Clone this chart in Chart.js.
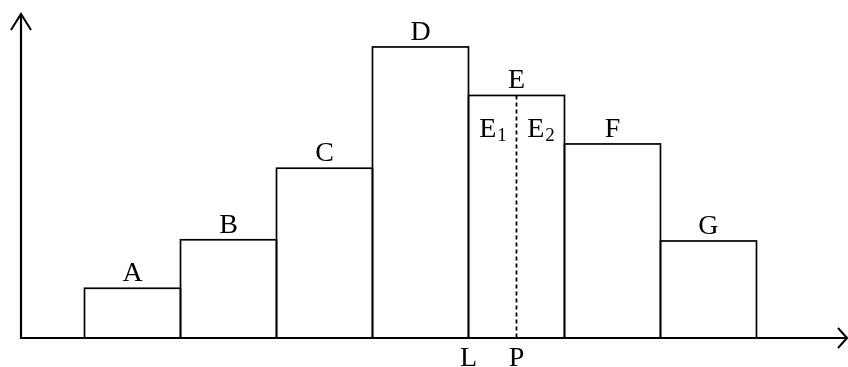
<!DOCTYPE html>
<html>
<head>
<meta charset="utf-8">
<script src="https://cdn.jsdelivr.net/npm/chart.js@4/dist/chart.umd.min.js"></script>
<style>
  html, body { margin: 0; padding: 0; background: #fff; }
  canvas { display: block; }
</style>
</head>
<body>
<canvas id="c" width="848" height="367"></canvas>
<script>
// ---- data ----
const categories = ['A', 'B', 'C', 'D', 'E', 'F', 'G'];
const values = [2.05, 4.05, 7, 12, 10, 8, 4];
const positions = [1, 2, 3, 4, 5, 6, 7];
const axisMarks = ['L', 'P'];
const axisMarkPositions = [4.5, 5];
const splitLabels = ['1', '2'];          // subscripts of E
const splitLabelPositions = [4.75, 5.25];
const splitLabelLevel = 8.3;
const xMin = -0.1615, xMax = 8.443;
const yMin = 0, yMax = 13.4;

const FONT = '"Liberation Serif", "Times New Roman", serif';

const drawPlugin = {
  id: 'drawPlugin',
  afterDatasetsDraw(chart) {
    const ctx = chart.ctx;
    const xs = chart.scales.x, ys = chart.scales.y;
    const meta = chart.getDatasetMeta(0);
    ctx.save();
    // bar outlines
    ctx.strokeStyle = '#000';
    ctx.lineWidth = 1.7;
    ctx.lineJoin = 'miter';
    meta.data.forEach(el => {
      const p = el.getProps(['x', 'y', 'base', 'width'], true);
      ctx.strokeRect(p.x - p.width / 2, p.y, p.width, p.base - p.y);
    });
    // dashed line at P
    const px = xs.getPixelForValue(axisMarkPositions[1]);
    ctx.setLineDash([4, 3]);
    ctx.lineWidth = 1.8;
    ctx.beginPath();
    ctx.moveTo(px, ys.getPixelForValue(values[4]));
    ctx.lineTo(px, ys.getPixelForValue(0));
    ctx.stroke();
    ctx.setLineDash([]);

    // axes
    const left = chart.chartArea.left, right = chart.chartArea.right;
    const top = chart.chartArea.top, bottom = ys.getPixelForValue(0);
    ctx.lineWidth = 2.2;
    ctx.lineCap = 'butt';
    ctx.beginPath();
    ctx.moveTo(left, bottom + 1);
    ctx.lineTo(left, top + 1);
    ctx.moveTo(left - 1, bottom);
    ctx.lineTo(right, bottom);
    ctx.stroke();
    // arrow heads
    ctx.lineWidth = 2;
    ctx.beginPath();
    ctx.moveTo(left - 10, top + 17);
    ctx.lineTo(left, top + 1);
    ctx.lineTo(left + 10, top + 17);
    ctx.moveTo(right - 9, bottom - 10);
    ctx.lineTo(right, bottom);
    ctx.lineTo(right - 9, bottom + 10);
    ctx.stroke();

    // labels above bars
    ctx.fillStyle = '#000';
    ctx.font = '28px ' + FONT;
    ctx.textAlign = 'center';
    ctx.textBaseline = 'alphabetic';
    meta.data.forEach((el, i) => {
      const p = el.getProps(['x', 'y'], true);
      ctx.fillText(categories[i], p.x, p.y - 7);
    });

    // E1, E2
    splitLabels.forEach((s, i) => {
      const cx = xs.getPixelForValue(splitLabelPositions[i]);
      const by = ys.getPixelForValue(splitLabelLevel);
      ctx.font = '28px ' + FONT;
      const wE = ctx.measureText(categories[4]).width;
      ctx.font = '19px ' + FONT;
      const wS = ctx.measureText(s).width;
      const x0 = cx - (wE + wS) / 2;
      ctx.textAlign = 'left';
      ctx.font = '28px ' + FONT;
      ctx.fillText(categories[4], x0, by);
      ctx.font = '19px ' + FONT;
      ctx.fillText(s, x0 + wE + 1, by + 4);
    });

    // L, P below axis
    ctx.font = '28px ' + FONT;
    ctx.textAlign = 'center';
    axisMarks.forEach((m, i) => {
      ctx.fillText(m, xs.getPixelForValue(axisMarkPositions[i]), bottom + 28);
    });
    ctx.restore();
  }
};

new Chart(document.getElementById('c'), {
  type: 'bar',
  data: {
    datasets: [{
      data: positions.map((x, i) => ({ x: x, y: values[i] })),
      backgroundColor: '#ffffff',
      borderWidth: 0,
      barPercentage: 1,
      categoryPercentage: 1
    }]
  },
  options: {
    responsive: false,
    devicePixelRatio: 1,
    animation: false,
    layout: { padding: { left: 21, right: 1, top: 13, bottom: 29 } },
    scales: {
      x: { type: 'linear', min: xMin, max: xMax, display: false, offset: false,
           grid: { offset: false },
           ticks: { stepSize: 1, includeBounds: false } },
      y: { min: yMin, max: yMax, display: false }
    },
    plugins: { legend: { display: false }, tooltip: { enabled: false } }
  },
  plugins: [drawPlugin]
});
</script>
</body>
</html>
